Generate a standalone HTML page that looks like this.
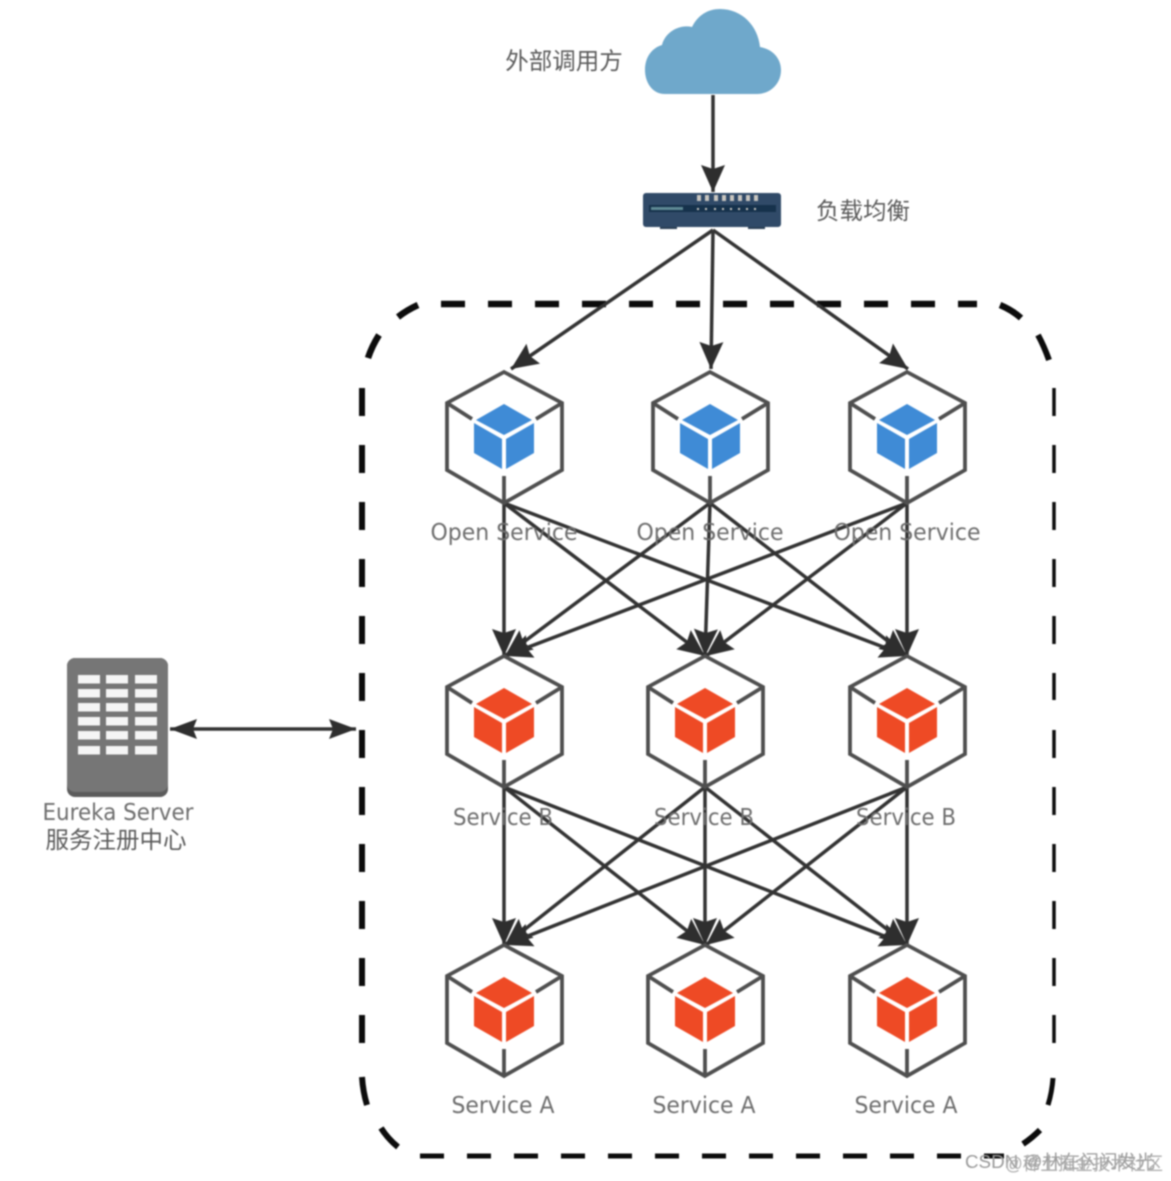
<!DOCTYPE html>
<html>
<head>
<meta charset="utf-8">
<style>
html,body{margin:0;padding:0;background:#fff;width:1171px;height:1181px;overflow:hidden}
svg{display:block;filter:blur(0.8px)}
.t{font-family:"DejaVu Sans","Liberation Sans",sans-serif;font-size:23px;fill:#6e6e6e;text-anchor:middle}
.c{font-family:"Liberation Sans","Noto Sans CJK SC",sans-serif;font-size:23.5px;fill:#5c5c5c;text-anchor:middle}
.l{stroke:#333;stroke-width:3.5;fill:none;marker-end:url(#a)}
</style>
</head>
<body>
<svg width="1171" height="1181" viewBox="0 0 1171 1181" xmlns="http://www.w3.org/2000/svg">
<defs>
<marker id="a" markerUnits="userSpaceOnUse" markerWidth="34" markerHeight="28" refX="28" refY="13" orient="auto">
<path d="M28 13 L1 1 L5 13 L1 25 Z" fill="#2e2e2e"/>
</marker>
<marker id="b" markerUnits="userSpaceOnUse" markerWidth="34" markerHeight="26" refX="28" refY="12" orient="auto-start-reverse">
<path d="M28 12 L1 2 L5 12 L1 22 Z" fill="#2e2e2e"/>
</marker>
<g id="hex" fill="none" stroke="#4f4f4f" stroke-width="3.8">
<path d="M0 0 L58 31 V98 L0 131 L-57 98 V31 Z" stroke-linejoin="miter"/>
<path d="M-57 31 L-32 47 M58 31 L32 47 M0 131 V104"/>
</g>
<g id="blue">
<use href="#hex"/>
<g fill="#3f8bd6">
<path d="M0 32 L28 48 L0 63 L-28 48 Z"/>
<path d="M-30 51 L-2 67 V97 L-30 81 Z"/>
<path d="M30 51 L2 67 V97 L30 81 Z"/>
</g>
</g>
<g id="red">
<use href="#hex"/>
<g fill="#ee4a25">
<path d="M0 32 L28 48 L0 63 L-28 48 Z"/>
<path d="M-30 51 L-2 67 V97 L-30 81 Z"/>
<path d="M30 51 L2 67 V97 L30 81 Z"/>
</g>
</g>
</defs>

<rect width="1171" height="1181" fill="#fff"/>

<!-- Dashed boundary -->
<g fill="none" stroke="#0c0c0c" stroke-linecap="butt">
<path d="M441 304 H977" stroke-width="6.5" stroke-dasharray="24 23"/>
<path d="M420 1156 H1004" stroke-width="5" stroke-dasharray="24 23"/>
<path d="M362 388 V1050" stroke-width="6" stroke-dasharray="28 29"/>
<path d="M1054 388 V700 M1054 730 V1050" stroke-width="3.5" stroke-dasharray="28 29"/>
<path d="M398 317 Q407 310 418 305" stroke-width="6.5"/>
<path d="M368 358 Q372 346 379 335" stroke-width="6.5"/>
<path d="M1000 305 Q1012 310 1021 318" stroke-width="6.5"/>
<path d="M1038 335 Q1044 346 1049 360" stroke-width="6"/>
<path d="M362 1077 Q363 1092 367 1105" stroke-width="6"/>
<path d="M381 1128 Q388 1139 398 1147" stroke-width="6"/>
<path d="M1023 1144 Q1032 1138 1040 1130" stroke-width="6"/>
<path d="M1048 1105 Q1052 1092 1053 1078" stroke-width="5"/>
</g>

<!-- Cloud -->
<path d="M665 94 C652 94 645 82 645 70 C645 57 652 48 662 45 C665 33 678 24 692 27 C698 15 708 9 720 9 C742 9 758 26 760 47 C772 49 781 58 781 70 C781 84 770 94 757 94 Z" fill="#6fa8cb"/>
<text class="c" x="564" y="69">外部调用方</text>

<!-- Top connectors -->
<path class="l" d="M713 95 V192"/>
<path class="l" d="M713 230 L511 369"/>
<path class="l" d="M713 230 L711 369"/>
<path class="l" d="M713 230 L908 369"/>

<!-- Load balancer -->
<rect x="643" y="193" width="138" height="34" rx="3" fill="#304a68"/>
<rect x="649" y="205" width="127" height="7" fill="#16324c"/>
<rect x="651" y="207" width="32" height="3" fill="#5f8a95"/>
<rect x="660" y="227" width="17" height="2" fill="#2a3f55"/>
<rect x="748" y="227" width="17" height="2" fill="#2a3f55"/>
<g fill="#c9c6c0">
<rect x="697" y="195" width="4" height="6"/><rect x="705" y="195" width="4" height="6"/><rect x="714" y="195" width="4" height="6"/><rect x="722" y="195" width="4" height="6"/><rect x="730" y="195" width="4" height="6"/><rect x="738" y="195" width="4" height="6"/><rect x="746" y="195" width="4" height="6"/><rect x="754" y="195" width="4" height="6"/>
<rect x="697" y="208" width="2" height="2"/><rect x="705" y="208" width="2" height="2"/><rect x="714" y="208" width="2" height="2"/><rect x="722" y="208" width="2" height="2"/><rect x="730" y="208" width="2" height="2"/><rect x="738" y="208" width="2" height="2"/><rect x="746" y="208" width="2" height="2"/><rect x="754" y="208" width="2" height="2"/>
</g>
<text class="c" x="863" y="219">负载均衡</text>

<!-- Row 1 to Row 2 -->
<path class="l" d="M504 503 V656"/>
<path class="l" d="M504 503 L705 656"/>
<path class="l" d="M504 503 L907 656"/>
<path class="l" d="M710 503 L505 656"/>
<path class="l" d="M710 503 L705 656"/>
<path class="l" d="M710 503 L907 656"/>
<path class="l" d="M907 503 L505 656"/>
<path class="l" d="M907 503 L706 656"/>
<path class="l" d="M907 503 V656"/>

<!-- Row 2 to Row 3 -->
<path class="l" d="M504 787 V945"/>
<path class="l" d="M504 787 L705 945"/>
<path class="l" d="M504 787 L907 945"/>
<path class="l" d="M705 787 L505 945"/>
<path class="l" d="M705 787 V945"/>
<path class="l" d="M705 787 L907 945"/>
<path class="l" d="M907 787 L505 945"/>
<path class="l" d="M907 787 L706 945"/>
<path class="l" d="M907 787 V945"/>

<!-- Nodes -->
<use href="#blue" x="504" y="372"/>
<use href="#blue" x="710" y="372"/>
<use href="#blue" x="907" y="372"/>
<use href="#red" x="504" y="656"/>
<use href="#red" x="705" y="656"/>
<use href="#red" x="907" y="656"/>
<use href="#red" x="504" y="945"/>
<use href="#red" x="705" y="945"/>
<use href="#red" x="907" y="945"/>

<!-- Labels -->
<text class="t" x="504" y="540" textLength="147" lengthAdjust="spacingAndGlyphs">Open Service</text>
<text class="t" x="710" y="540" textLength="147" lengthAdjust="spacingAndGlyphs">Open Service</text>
<text class="t" x="907" y="540" textLength="147" lengthAdjust="spacingAndGlyphs">Open Service</text>
<text class="t" x="503" y="825" textLength="100" lengthAdjust="spacingAndGlyphs">Service B</text>
<text class="t" x="704" y="825" textLength="100" lengthAdjust="spacingAndGlyphs">Service B</text>
<text class="t" x="906" y="825" textLength="100" lengthAdjust="spacingAndGlyphs">Service B</text>
<text class="t" x="503" y="1113" textLength="103" lengthAdjust="spacingAndGlyphs">Service A</text>
<text class="t" x="704" y="1113" textLength="103" lengthAdjust="spacingAndGlyphs">Service A</text>
<text class="t" x="906" y="1113" textLength="103" lengthAdjust="spacingAndGlyphs">Service A</text>

<!-- Eureka server -->
<rect x="67" y="658" width="101" height="139" rx="8" fill="#5c5c5c"/>
<rect x="67" y="658" width="101" height="134" rx="8" fill="#767676"/>
<g fill="#f5f5f5">
<rect x="78" y="675" width="22" height="8.5"/><rect x="106" y="675" width="22" height="8.5"/><rect x="135" y="675" width="22" height="8.5"/>
<rect x="78" y="689" width="22" height="8.5"/><rect x="106" y="689" width="22" height="8.5"/><rect x="135" y="689" width="22" height="8.5"/>
<rect x="78" y="703" width="22" height="8.5"/><rect x="106" y="703" width="22" height="8.5"/><rect x="135" y="703" width="22" height="8.5"/>
<rect x="78" y="717" width="22" height="8.5"/><rect x="106" y="717" width="22" height="8.5"/><rect x="135" y="717" width="22" height="8.5"/>
<rect x="78" y="731" width="22" height="8.5"/><rect x="106" y="731" width="22" height="8.5"/><rect x="135" y="731" width="22" height="8.5"/>
<rect x="78" y="746" width="22" height="8.5"/><rect x="106" y="746" width="22" height="8.5"/><rect x="135" y="746" width="22" height="8.5"/>
</g>
<text class="t" x="118" y="820" textLength="151" lengthAdjust="spacingAndGlyphs">Eureka Server</text>
<text class="c" x="116" y="848">服务注册中心</text>
<path d="M170 729 H356" stroke="#333" stroke-width="3.5" fill="none" marker-start="url(#b)" marker-end="url(#b)"/>

<!-- Watermark -->
<text x="965" y="1168" font-family="'Liberation Sans','Noto Sans CJK SC',sans-serif" font-size="18" fill="#999" textLength="190" lengthAdjust="spacingAndGlyphs">CSDN @林在闪闪发光</text>
<text x="1005" y="1170" font-family="'Liberation Sans','Noto Sans CJK SC',sans-serif" font-size="18" fill="#aaa" textLength="158" lengthAdjust="spacingAndGlyphs">@稀土掘金技术社区</text>
</svg>
</body>
</html>
